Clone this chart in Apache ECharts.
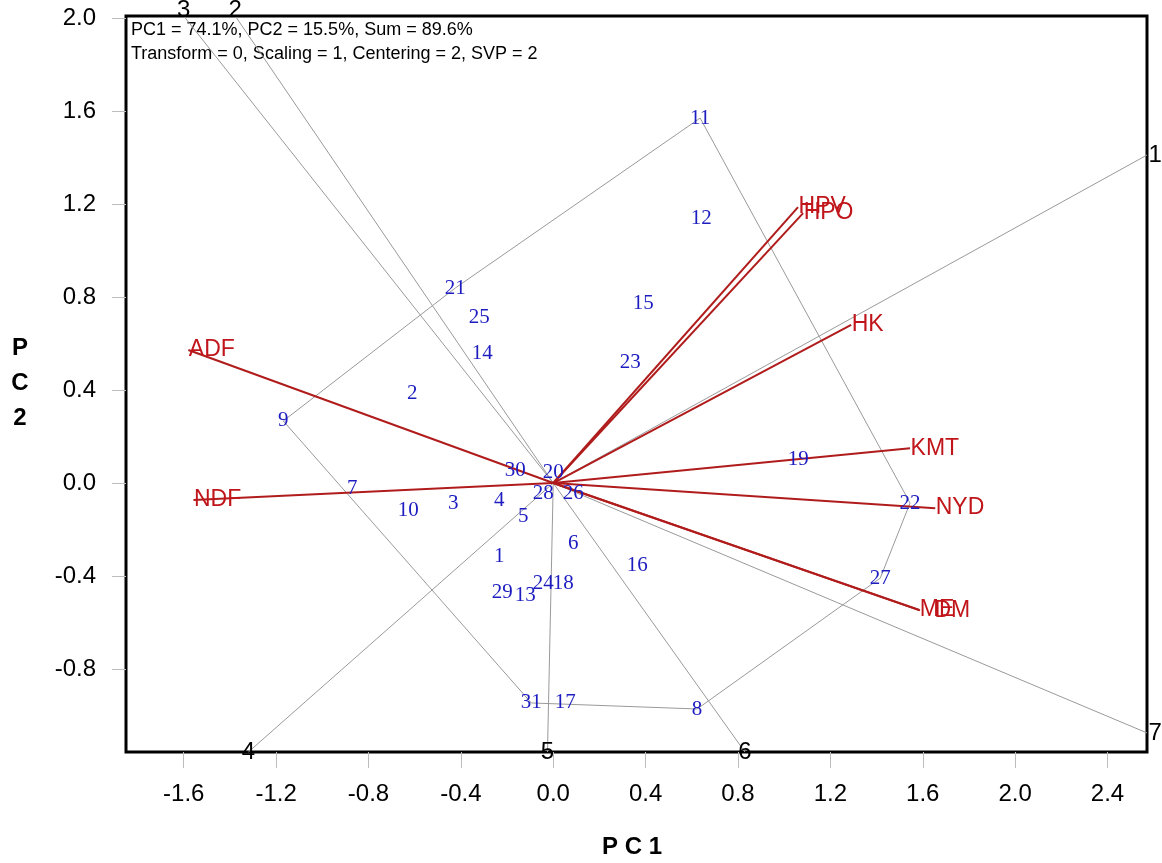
<!DOCTYPE html>
<html>
<head>
<meta charset="utf-8">
<script src="https://cdn.jsdelivr.net/npm/echarts@6/dist/echarts.min.js"></script>
<style>
html,body{margin:0;padding:0;background:#fff;}
#c{width:1162px;height:863px;}
</style>
</head>
<body>
<div id="c"></div>
<script>
// ---- data ----
const xTicks = [-1.6,-1.2,-0.8,-0.4,0.0,0.4,0.8,1.2,1.6,2.0,2.4];
const yTicks = [-0.8,-0.4,0.0,0.4,0.8,1.2,1.6,2.0];
const xRange = [-1.85, 2.571];
const yRange = [-1.157, 2.009];

const genoNames = ['1','2','3','4','5','6','7','8','9','10','11','12','13','14','15','16','17','18','19','20','21','22','23','24','25','26','27','28','29','30','31'];
const genoPC1 = [-0.234,-0.610,-0.433,-0.234,-0.130,0.087,-0.870,0.623,-1.169,-0.628,0.636,0.641,-0.121,-0.307,0.390,0.364,0.052,0.043,1.061,0.000,-0.424,1.545,0.333,-0.043,-0.320,0.087,1.416,-0.043,-0.221,-0.165,-0.095];
const genoPC2 = [-0.314,0.387,-0.086,-0.073,-0.146,-0.258,-0.022,-0.972,0.267,-0.116,1.570,1.140,-0.482,0.559,0.774,-0.353,-0.946,-0.434,0.103,0.047,0.839,-0.086,0.520,-0.430,0.710,-0.043,-0.409,-0.043,-0.469,0.056,-0.946];

const traitNames = ['HPV','HPO','HK','KMT','NYD','ME','DM','ADF','NDF'];
const traitPC1 = [1.060,1.082,1.290,1.545,1.654,1.585,1.588,-1.580,-1.558];
const traitPC2 = [1.187,1.161,0.680,0.150,-0.108,-0.546,-0.548,0.572,-0.073];

const hullOrder = ['11','22','27','8','31','9','21','11'];

const rayNames = ['1','2','3','4','5','6','7'];
const rayPC1 = [2.571,-1.377,-1.600,-1.320,-0.025,0.830,2.571];
const rayPC2 = [1.411,2.009,2.009,-1.157,-1.157,-1.157,-1.075];

const infoLines = ['PC1 = 74.1%, PC2 = 15.5%, Sum = 89.6%','Transform = 0, Scaling = 1, Centering = 2, SVP = 2'];

// ---- build ----
const series = [];
const hullData = hullOrder.map(n => { const i = genoNames.indexOf(n); return [genoPC1[i], genoPC2[i]]; });
series.push({type:'line', data:hullData, symbol:'none', silent:true, z:1,
  lineStyle:{color:'#9a9a9a', width:1}});

rayNames.forEach((n,i)=>{
  series.push({type:'line', data:[[0,0],[rayPC1[i],rayPC2[i]]], symbol:'none', silent:true, z:1, clip:false,
    lineStyle:{color:'#9a9a9a', width:1}});
});

traitNames.forEach((n,i)=>{
  series.push({type:'line', data:[[0,0],[traitPC1[i],traitPC2[i]]], symbol:'none', silent:true, z:3,
    lineStyle:{color:'#b01c1c', width:2}});
});

const hidden = {color:'rgba(0,0,0,0)', opacity:1};
const rayLabelCfg = {
  '1':{position:'right', distance:1},
  '7':{position:'right', distance:1},
  '2':{position:'inside', offset:[0,-6]},
  '3':{position:'inside', offset:[0,-6]},
  '4':{position:'inside'},
  '5':{position:'inside'},
  '6':{position:'inside'}
};
const traitLabelCfg = {'DM':{offset:[14,0]}};
series.push({type:'scatter', clip:false, symbolSize:1, itemStyle:hidden, z:5, silent:true,
  data: rayNames.map((n,i)=>({name:n, value:[rayPC1[i],rayPC2[i]], label:Object.assign({}, rayLabelCfg[n])})),
  label:{show:true, formatter:'{b}', color:'#000', opacity:1, fontFamily:'Liberation Sans, Arial', fontSize:24}
});

series.push({type:'scatter', clip:false, symbolSize:1, itemStyle:hidden, z:6, silent:true,
  data: traitNames.map((n,i)=>({name:n, value:[traitPC1[i],traitPC2[i]], label:Object.assign({}, traitLabelCfg[n] || {})})),
  label:{show:true, formatter:'{b}', position:'right', distance:0, color:'#c0151a', opacity:1, fontFamily:'Liberation Sans, Arial', fontSize:23}
});

series.push({type:'scatter', clip:false, symbolSize:1, itemStyle:hidden, z:7, silent:true,
  data: genoNames.map((n,i)=>({name:n, value:[genoPC1[i],genoPC2[i]]})),
  label:{show:true, formatter:'{b}', position:'inside', color:'#1c1cc0', opacity:1, fontFamily:'Liberation Serif, Times New Roman, serif', fontSize:21}
});

const chart = echarts.init(document.getElementById('c'), null, {renderer:'canvas'});
chart.setOption({
  animation:false,
  backgroundColor:'#fff',
  grid:{left:126, right:15, top:16, bottom:111, show:true, borderColor:'#000', borderWidth:3, backgroundColor:'rgba(0,0,0,0)'},
  xAxis:{type:'value', min:xRange[0], max:xRange[1],
    axisLine:{show:false, onZero:false},
    splitLine:{show:false},
    axisTick:{show:true, length:16, customValues:xTicks, lineStyle:{color:'#bdbdbd', width:1}},
    axisLabel:{customValues:xTicks, margin:30, color:'#000', fontFamily:'Liberation Sans, Arial', fontSize:24,
      formatter:v=>v.toFixed(1)}
  },
  yAxis:{type:'value', min:yRange[0], max:yRange[1],
    axisLine:{show:false, onZero:false},
    splitLine:{show:false},
    axisTick:{show:true, length:14, customValues:yTicks, lineStyle:{color:'#bdbdbd', width:1}},
    axisLabel:{customValues:yTicks, margin:30, color:'#000', fontFamily:'Liberation Sans, Arial', fontSize:24,
      formatter:v=>v.toFixed(1)}
  },
  graphic:[
    {type:'text', left:131, top:21, style:{text:infoLines[0], fill:'#000', font:'18px "Liberation Sans", Arial'}},
    {type:'text', left:131, top:45, style:{text:infoLines[1], fill:'#000', font:'18px "Liberation Sans", Arial'}},
    {type:'text', x:632, y:847, style:{text:'P C 1', fill:'#000', font:'bold 24px "Liberation Sans", Arial', textAlign:'center', textVerticalAlign:'middle'}},
    {type:'text', x:20, y:383, style:{text:'P\nC\n2', fill:'#000', font:'bold 24px "Liberation Sans", Arial', textAlign:'center', textVerticalAlign:'middle', lineHeight:35}}
  ],
  series:series
});
</script>
</body>
</html>
